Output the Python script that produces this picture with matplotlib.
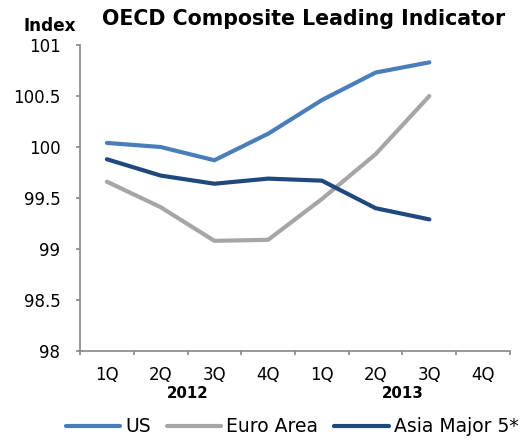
import matplotlib
matplotlib.use("Agg")
import matplotlib.transforms as mtransforms
import numpy as np
from matplotlib import pyplot as plt

plt.rcParams["font.family"] = ["DejaVu Sans"]

quarters = ["1Q", "2Q", "3Q", "4Q", "1Q", "2Q", "3Q", "4Q"]
years = ["2012", "2013"]
us = [100.04, 100.0, 99.87, 100.13, 100.46, 100.73, 100.83]
euro = [99.66, 99.41, 99.08, 99.09, 99.49, 99.93, 100.50]
asia = [99.88, 99.72, 99.64, 99.69, 99.67, 99.40, 99.29]

fig = plt.figure(figsize=(5.22, 4.41), dpi=100)
ax = fig.add_axes([80 / 522, 1 - 351 / 441, 430 / 522, 306 / 441])

x = np.arange(len(us))
ax.plot(x, us, color="#4A7EBB", lw=3, label="US", solid_capstyle="round")
ax.plot(x, euro, color="#A6A6A6", lw=3, label="Euro Area", solid_capstyle="round")
ax.plot(x, asia, color="#1F497D", lw=3, label="Asia Major 5*", solid_capstyle="round")

ax.set_xlim(-0.5, len(quarters) - 0.5)
ax.set_ylim(98, 101)
ax.set_yticks(np.arange(98, 101.01, 0.5))
ax.set_yticklabels(["98", "98.5", "99", "99.5", "100", "100.5", "101"], fontsize=12)
ax.set_xticks(np.arange(len(quarters)))
ax.set_xticklabels(quarters, fontsize=12)
ax.set_xticks(np.arange(len(quarters) + 1) - 0.5, minor=True)
ax.tick_params(axis="x", which="major", length=0, pad=11)
ax.tick_params(axis="x", which="minor", length=3.2, color="#868686", width=1.2)
ax.tick_params(axis="y", length=2.6, color="#868686", width=1.2, pad=11.5)

for s in ["top", "right"]:
    ax.spines[s].set_visible(False)
for s in ["left", "bottom"]:
    ax.spines[s].set_color("#868686")
    ax.spines[s].set_linewidth(1.2)

trans = mtransforms.blended_transform_factory(ax.transData, fig.transFigure)
for i, yr in enumerate(years):
    ax.text(1.5 + 4 * i, 1 - 394 / 441, yr, transform=trans, ha="center",
            va="center", fontsize=10.8, fontweight="bold")

fig.text(304 / 522, 1 - 19 / 441, "OECD Composite Leading Indicator",
         ha="center", va="center", fontsize=14.8, fontweight="bold")
fig.text(49.5 / 522, 1 - 26 / 441, "Index", ha="center", va="center",
         fontsize=12.2, fontweight="bold")

fig.legend(loc="center", bbox_to_anchor=(292 / 522, 1 - 427 / 441), ncol=3,
           frameon=False, fontsize=13.5, handlelength=2.9, handletextpad=0.27,
           columnspacing=0.85, borderaxespad=0, borderpad=0)

fig.savefig("out.png", dpi=100)
